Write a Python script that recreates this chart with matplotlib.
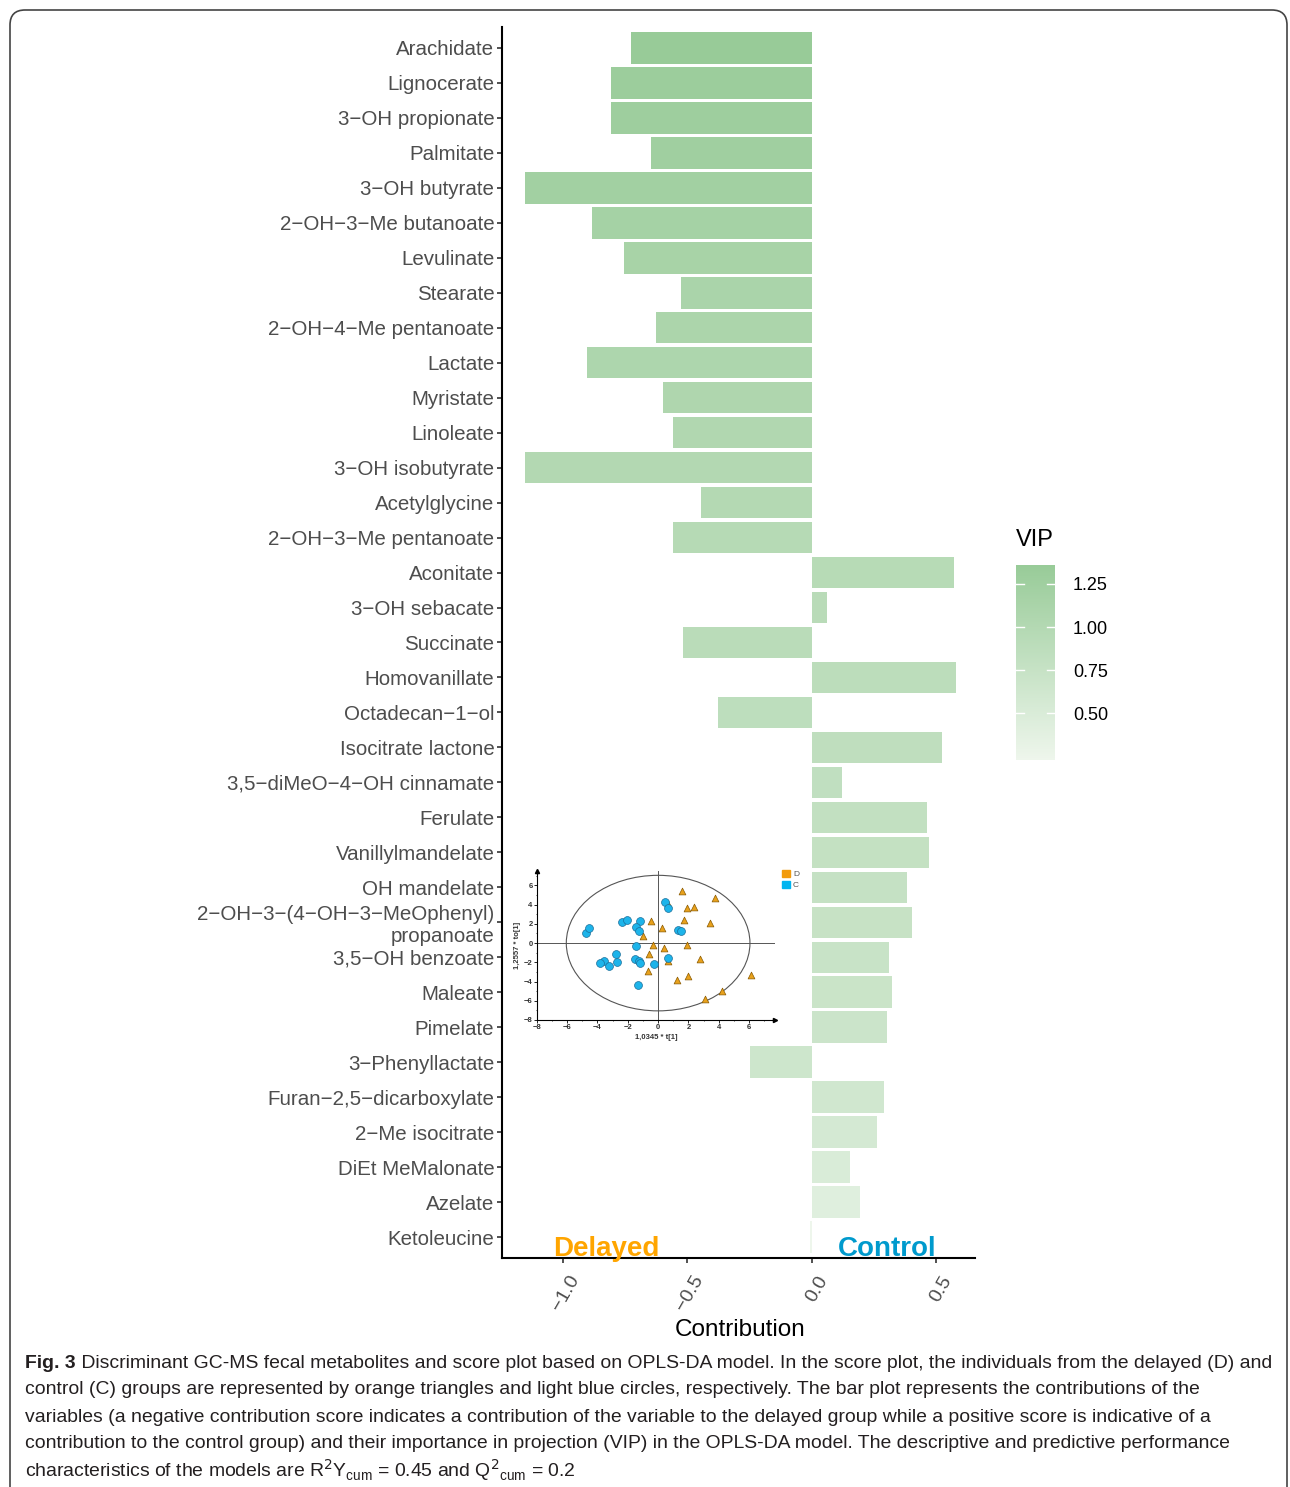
import numpy as np
import matplotlib
matplotlib.use('Agg')
import matplotlib.pyplot as plt
import matplotlib.cm as cm
from matplotlib.colors import LinearSegmentedColormap, Normalize
from matplotlib.patches import Ellipse, FancyBboxPatch, Patch
from matplotlib.transforms import ScaledTranslation

plt.rcParams['font.family'] = ['Liberation Sans', 'DejaVu Sans']

# bar plot data (top to bottom)
metabolites = ['Arachidate', 'Lignocerate', '3−OH propionate', 'Palmitate',
               '3−OH butyrate', '2−OH−3−Me butanoate', 'Levulinate', 'Stearate',
               '2−OH−4−Me pentanoate', 'Lactate', 'Myristate', 'Linoleate',
               '3−OH isobutyrate', 'Acetylglycine', '2−OH−3−Me pentanoate',
               'Aconitate', '3−OH sebacate', 'Succinate', 'Homovanillate',
               'Octadecan−1−ol', 'Isocitrate lactone', '3,5−diMeO−4−OH cinnamate',
               'Ferulate', 'Vanillylmandelate', 'OH mandelate',
               '2−OH−3−(4−OH−3−MeOphenyl)\npropanoate', '3,5−OH benzoate',
               'Maleate', 'Pimelate', '3−Phenyllactate', 'Furan−2,5−dicarboxylate',
               '2−Me isocitrate', 'DiEt MeMalonate', 'Azelate', 'Ketoleucine']
contribution = [-0.727, -0.807, -0.807, -0.647, -1.153, -0.884, -0.755, -0.526,
                -0.627, -0.904, -0.598, -0.558, -1.153, -0.446, -0.558,
                0.570, 0.060, -0.518, 0.578, -0.378, 0.522, 0.120,
                0.462, 0.470, 0.382, 0.402, 0.309, 0.321, 0.301,
                -0.249, 0.289, 0.261, 0.153, 0.193, -0.008]
vip = [1.36, 1.31, 1.28, 1.25, 1.22, 1.18, 1.15, 1.12, 1.10, 1.08, 1.06, 1.03,
       1.01, 0.99, 0.97, 0.95, 0.93, 0.91, 0.89, 0.87, 0.85, 0.83, 0.81, 0.79,
       0.77, 0.75, 0.73, 0.71, 0.69, 0.66, 0.62, 0.57, 0.50, 0.42, 0.23]
vip_ticks = [0.50, 0.75, 1.00, 1.25]
x_ticks = [-1.0, -0.5, 0.0, 0.5]
x_ticklabels = ['−1.0', '−0.5', '0.0', '0.5']

# score plot data (inset)
d_x = [1.57, 3.74, 1.87, 2.34, 0.62, 1.68, 3.42, -0.47, 0.27, -0.99, -0.36,
       0.38, 1.90, -0.58, 0.62, 2.77, -0.69, 1.24, 1.98, 6.11, 4.22, 3.08]
d_y = [5.37, 4.65, 3.60, 3.71, 4.10, 2.39, 2.04, 2.25, 1.62, 0.79, -0.22,
       -0.53, -0.22, -1.09, -1.88, -1.68, -2.89, -3.83, -3.41, -3.31, -4.94, -5.78]
c_x = [-4.73, -4.53, -2.40, -2.05, -1.18, -1.44, -1.26, 0.45, 0.62, 1.28, 1.50,
       -1.48, -2.80, -2.69, -3.55, -3.81, -3.22, -1.53, -1.26, -1.22, -0.30, 0.62, -1.31]
c_y = [1.03, 1.59, 2.21, 2.42, 2.35, 1.69, 1.24, 4.26, 3.67, 1.38, 1.21,
       -0.29, -1.12, -1.95, -1.82, -2.02, -2.37, -1.61, -1.82, -2.06, -2.16, -1.54, -4.35]

W, H = 1290, 1487
fig = plt.figure(figsize=(W / 100, H / 100), dpi=100)


def fx(px):
    return px / W


def fy(py):
    return 1 - py / H


cmap = LinearSegmentedColormap.from_list('vip', ['#EEF6EC', '#98CB98'])
norm = Normalize(vmin=min(vip), vmax=max(vip))

# main bar plot
ax = fig.add_axes([fx(502), fy(1258), fx(975) - fx(502), fy(27) - fy(1258)])
n = len(metabolites)
ypos = np.arange(n)
ax.barh(ypos, contribution, height=0.9, color=cmap(norm(np.array(vip))))
ax.set_ylim(n - 1 + 0.6, -0.6)
ax.set_xlim(-1.245, 0.655)
for s in ['top', 'right']:
    ax.spines[s].set_visible(False)
for s in ['left', 'bottom']:
    ax.spines[s].set_linewidth(1.5)
    ax.spines[s].set_color('black')
ax.set_yticks(ypos)
ax.set_yticklabels(metabolites)
ax.set_xticks(x_ticks)
ax.set_xticklabels(x_ticklabels, rotation=60, ha='right', va='center',
                   rotation_mode='anchor')
ax.tick_params(length=3.5, width=1.2, color='#333333', labelcolor='#4D4D4D',
               labelsize=14.8, pad=2)
ax.tick_params(axis='x', labelsize=14, pad=0)
for lab in ax.get_xticklabels():
    lab.set_transform(lab.get_transform() +
                      ScaledTranslation(0.12, -0.14, fig.dpi_scale_trans))

fig.text(fx(740), fy(1330), 'Contribution', fontsize=17.5, ha='center', va='center')
ax.text(-0.827, 34.54, 'Delayed', color='#FFA500', fontsize=20, fontweight='bold',
        ha='center', va='baseline', clip_on=False, zorder=5)
ax.text(0.301, 34.54, 'Control', color='#009ACD', fontsize=20, fontweight='bold',
        ha='center', va='baseline', clip_on=False, zorder=5)

# colour bar
cax = fig.add_axes([fx(1016), fy(760), fx(1055) - fx(1016), fy(565) - fy(760)])
cb = fig.colorbar(cm.ScalarMappable(norm=norm, cmap=cmap), cax=cax)
cb.outline.set_visible(False)
cb.set_ticks(vip_ticks)
cb.set_ticklabels(['%.2f' % t for t in vip_ticks])
cax.tick_params(length=0, labelsize=13, pad=13, labelcolor='black')
for t in vip_ticks:
    cax.plot([0, 0.2], [t, t], color='white', lw=1, transform=cax.get_yaxis_transform())
    cax.plot([0.8, 1], [t, t], color='white', lw=1, transform=cax.get_yaxis_transform())
fig.text(fx(1016), fy(540), 'VIP', fontsize=17, ha='left', va='center')

# inset score plot
axi = fig.add_axes([fx(536.7), fy(1020), fx(775) - fx(536.7), fy(871) - fy(1020)])
axi.set_xlim(-8, 7.7)
axi.set_ylim(-8, 7.5)
axi.axhline(0, color='#555555', lw=0.7, zorder=1)
axi.axvline(0, color='#555555', lw=0.7, zorder=1)
axi.add_patch(Ellipse((0, 0), 12.1, 14.1, fill=False, ec='#555555', lw=0.8, zorder=1))
axi.scatter(d_x, d_y, marker='^', s=24, color='#E8A11C', edgecolors='#8A5A00',
            linewidths=0.5, zorder=3)
axi.scatter(c_x, c_y, marker='o', s=32, color='#1DB4EA', edgecolors='#1A6E9A',
            linewidths=0.5, zorder=4)
for s in ['top', 'right']:
    axi.spines[s].set_visible(False)
for s in ['left', 'bottom']:
    axi.spines[s].set_linewidth(0.8)
axi.plot(1, 0, '>k', ms=3, transform=axi.transAxes, clip_on=False)
axi.plot(0, 1, '^k', ms=3, transform=axi.transAxes, clip_on=False)
axi.set_xticks(np.arange(-8, 7, 2))
axi.set_yticks(np.arange(-8, 7, 2))
axi.set_xticks(np.arange(-8, 8, 1), minor=True)
axi.set_yticks(np.arange(-8, 8, 1), minor=True)
axi.tick_params(labelsize=5.5, length=2, width=0.6, pad=1, labelcolor='#333333')
axi.tick_params(which='minor', length=1, width=0.5)
for lab in axi.get_xticklabels() + axi.get_yticklabels():
    lab.set_fontweight('bold')
axi.set_xlabel('1,0345 * t[1]', fontsize=5.5, fontweight='bold', color='#333333', labelpad=2)
axi.set_ylabel('1,2557 * to[1]', fontsize=5.5, fontweight='bold', color='#333333', labelpad=2)
fig.legend(handles=[Patch(color='#F29B0C', label='D'), Patch(color='#00B4F0', label='C')],
           loc='upper left', bbox_to_anchor=(fx(778), fy(866)), frameon=False,
           fontsize=6, handlelength=0.9, handleheight=0.9, handletextpad=0.4,
           labelspacing=0.25, borderpad=0, labelcolor='#555555')

# caption
cap_font = ['Liberation Sans Narrow', 'Liberation Sans', 'DejaVu Sans']
cap_lines = [
    ' Discriminant GC-MS fecal metabolites and score plot based on OPLS-DA model. '
    'In the score plot, the individuals from the delayed (D) and',
    'control (C) groups are represented by orange triangles and light blue circles, '
    'respectively. The bar plot represents the contributions of the',
    'variables (a negative contribution score indicates a contribution of the variable '
    'to the delayed group while a positive score is indicative of a',
    'contribution to the control group) and their importance in projection (VIP) in '
    'the OPLS-DA model. The descriptive and predictive performance',
    r'characteristics of the models are R$^{2}$Y$_{\mathregular{cum}}$ = 0.45 and '
    r'Q$^{2}$$_{\mathregular{cum}}$ = 0.2',
]
cap_y = [1364, 1390, 1417, 1443, 1470]
fs = 14
fig_lab = fig.text(fx(25), fy(cap_y[0]), 'Fig. 3', fontsize=fs, fontweight='bold',
                   family=cap_font, color='#231F20', va='center')
cap_texts = []
for i, (line, yy) in enumerate(zip(cap_lines, cap_y)):
    cap_texts.append(fig.text(fx(25), fy(yy), line, fontsize=fs, family=cap_font,
                              color='#231F20', va='center'))
for _ in range(3):
    fig.canvas.draw()
    r = fig.canvas.get_renderer()
    b0 = fig_lab.get_window_extent(r)
    cap_texts[0].set_x(b0.x1 / W)
    fig.canvas.draw()
    b1 = cap_texts[0].get_window_extent(r)
    scale = (1275 - 25) / (b1.x1 - b0.x0)
    fs = fs * scale
    fig_lab.set_fontsize(fs)
    for t in cap_texts:
        t.set_fontsize(fs)
fig.canvas.draw()
b0 = fig_lab.get_window_extent(fig.canvas.get_renderer())
cap_texts[0].set_x(b0.x1 / W)

# rounded frame
frame = FancyBboxPatch((0.10, -0.3), 12.77, 14.77 + 0.3,
                       boxstyle='round,pad=0,rounding_size=0.15',
                       transform=fig.dpi_scale_trans, fill=False,
                       ec='#444444', lw=1.2)
fig.patches.append(frame)

fig.savefig('out.png', dpi=100)
